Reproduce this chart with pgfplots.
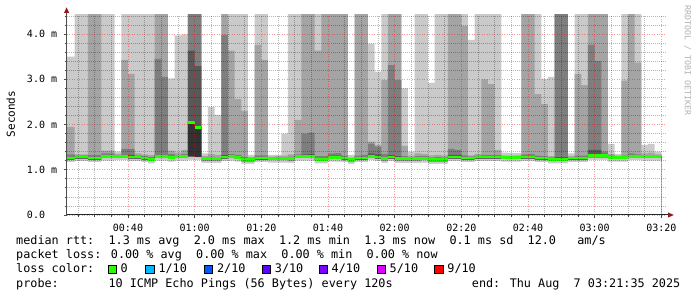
\documentclass[border=0pt]{standalone}
\usepackage{fontspec}
\usepackage{pgfplots}
\usepackage{pgfplotstable}
\pgfplotsset{compat=1.18}
\newfontfamily\dvm{DejaVu Sans Mono}
\definecolor{sA}{HTML}{CACACA}
\definecolor{sB}{HTML}{A4A4A4}
\definecolor{sC}{HTML}{7E7E7E}
\definecolor{sD}{HTML}{585858}
\definecolor{sE}{HTML}{323232}
\definecolor{lcA}{HTML}{26FF00}
\definecolor{lcB}{HTML}{00B8FF}
\definecolor{lcC}{HTML}{0059FF}
\definecolor{lcD}{HTML}{5E00FF}
\definecolor{lcE}{HTML}{7E00FF}
\definecolor{lcF}{HTML}{DD00FF}
\definecolor{lcG}{HTML}{FF0000}
\definecolor{arr}{RGB}{150,25,25}
\pgfplotstableread{
t med lo lo2 h5 h4 h3 h2 h1
20 1.26 1.17 1.225 1.26 1.28 1.34 1.95 3.50
24 1.28 1.19 1.245 1.28 1.30 1.31 1.34 5
26 1.28 1.19 1.245 1.28 1.30 1.31 1.34 5
28 1.26 1.17 1.225 1.26 1.28 1.33 5 5
30 1.26 1.17 1.225 1.26 1.28 1.33 5 5
32 1.29 1.20 1.255 1.29 1.31 1.36 1.42 5
34 1.29 1.20 1.255 1.29 1.31 1.36 1.42 5
36 1.30 1.21 1.265 1.30 1.31 1.32 1.35 1.40
38 1.30 1.21 1.265 1.30 1.33 1.46 3.43 5
40 1.28 1.19 1.245 1.28 1.33 1.46 3.12 5
42 1.28 1.19 1.245 1.28 1.30 1.31 1.36 5
44 1.26 1.17 1.225 1.26 1.28 1.30 1.34 5
46 1.23 1.14 1.195 1.23 1.25 1.28 1.33 5
48 1.29 1.20 1.255 1.29 1.33 3.45 5 5
50 1.29 1.20 1.255 1.29 1.33 3.05 5 5
52 1.27 1.18 1.235 1.27 1.29 1.35 1.42 3.02
54 1.29 1.20 1.255 1.29 1.31 1.33 1.38 3.97
56 1.29 1.20 1.255 1.29 1.31 1.35 1.44 3.99
58 2.05 1.22 1.29 2.06 3.63 5 5 5
60 1.93 1.22 1.28 1.95 3.29 5 5 5
62 1.24 1.15 1.205 1.24 1.26 1.27 1.30 1.36
64 1.24 1.15 1.205 1.24 1.26 1.29 1.35 2.39
66 1.24 1.15 1.205 1.24 1.26 1.28 1.33 2.21
68 1.28 1.19 1.245 1.28 1.33 3.98 5 5
70 1.29 1.20 1.255 1.29 1.31 1.35 3.63 5
72 1.27 1.18 1.235 1.27 1.29 1.33 2.56 5
74 1.22 1.13 1.185 1.22 1.24 1.28 2.30 5
76 1.22 1.13 1.185 1.22 1.24 1.25 1.28 1.33
78 1.26 1.17 1.225 1.26 1.28 1.32 3.76 5
80 1.26 1.17 1.225 1.26 1.28 1.32 3.43 5
82 1.25 1.16 1.215 1.25 1.26 1.27 1.29 1.33
84 1.25 1.16 1.215 1.25 1.26 1.27 1.30 1.33
86 1.25 1.16 1.215 1.25 1.27 1.28 1.31 1.80
88 1.24 1.15 1.205 1.24 1.26 1.29 1.34 5
90 1.29 1.20 1.255 1.29 1.31 1.34 2.10 5
92 1.29 1.20 1.255 1.29 1.34 1.80 5 5
94 1.29 1.20 1.255 1.29 1.35 1.82 5 5
96 1.23 1.14 1.195 1.23 1.25 1.30 3.63 5
98 1.23 1.14 1.195 1.23 1.25 1.30 5 5
100 1.27 1.18 1.235 1.27 1.31 1.36 5 5
102 1.27 1.18 1.235 1.27 1.31 1.37 5 5
104 1.26 1.17 1.225 1.26 1.28 1.31 5 5
106 1.22 1.13 1.185 1.22 1.23 1.24 1.27 1.33
108 1.26 1.17 1.225 1.26 1.28 1.31 5 5
110 1.26 1.17 1.225 1.26 1.28 1.33 5 5
112 1.30 1.21 1.265 1.30 1.36 1.58 1.62 3.79
114 1.28 1.19 1.245 1.28 1.34 1.51 1.55 3.17
116 1.24 1.15 1.205 1.24 1.26 1.35 2.98 5
118 1.28 1.19 1.245 1.28 1.33 3.31 5 5
120 1.24 1.15 1.205 1.24 1.30 2.98 5 5
122 1.24 1.15 1.205 1.24 1.26 1.30 1.53 2.80
124 1.24 1.15 1.205 1.24 1.26 1.28 1.31 1.40
126 1.24 1.15 1.205 1.24 1.26 1.30 1.36 5
128 1.25 1.16 1.215 1.25 1.27 1.30 1.35 5
130 1.22 1.13 1.185 1.22 1.24 1.27 1.32 2.92
132 1.22 1.13 1.185 1.22 1.24 1.28 1.33 5
134 1.22 1.13 1.185 1.22 1.24 1.27 1.32 5
136 1.28 1.19 1.245 1.28 1.33 1.46 5 5
138 1.28 1.19 1.245 1.28 1.33 1.44 5 5
140 1.26 1.17 1.225 1.26 1.28 1.32 4.18 5
142 1.26 1.17 1.225 1.26 1.27 1.29 1.32 3.87
144 1.28 1.19 1.245 1.28 1.30 1.31 1.35 5
146 1.28 1.19 1.245 1.28 1.30 1.33 3.00 5
148 1.28 1.19 1.245 1.28 1.30 1.33 2.89 5
150 1.28 1.19 1.245 1.28 1.30 1.33 1.44 5
152 1.27 1.18 1.235 1.27 1.28 1.29 1.31 1.38
154 1.27 1.18 1.235 1.27 1.28 1.29 1.31 1.37
156 1.27 1.18 1.235 1.27 1.28 1.29 1.32 1.37
158 1.28 1.19 1.245 1.28 1.30 1.34 5 5
160 1.28 1.19 1.245 1.28 1.30 1.35 5 5
162 1.26 1.17 1.225 1.26 1.28 1.31 2.67 5
164 1.26 1.17 1.225 1.26 1.28 1.30 2.45 3.01
166 1.23 1.14 1.195 1.23 1.25 1.27 1.30 3.05
168 1.23 1.14 1.195 1.23 1.28 5 5 5
170 1.23 1.14 1.195 1.23 1.28 5 5 5
172 1.26 1.17 1.225 1.26 1.27 1.28 1.30 1.36
174 1.26 1.17 1.225 1.26 1.28 1.31 3.12 5
176 1.26 1.17 1.225 1.26 1.28 1.31 2.87 5
178 1.31 1.22 1.275 1.31 1.44 3.76 5 5
180 1.31 1.22 1.275 1.31 1.44 3.40 5 5
182 1.31 1.22 1.275 1.31 1.35 1.40 5 5
184 1.27 1.18 1.235 1.27 1.29 1.31 1.35 1.57
186 1.27 1.18 1.235 1.27 1.28 1.29 1.31 1.35
188 1.27 1.18 1.235 1.27 1.29 1.31 2.97 5
190 1.30 1.21 1.265 1.30 1.32 1.36 5 5
192 1.30 1.21 1.265 1.30 1.32 1.34 3.37 5
194 1.29 1.20 1.255 1.29 1.31 1.32 1.36 1.55
196 1.29 1.20 1.255 1.29 1.31 1.32 1.38 1.57
198 1.29 1.20 1.255 1.29 1.30 1.31 1.34 1.40
200 1.29 1.20 1.255 1.29 1.30 1.31 1.34 1.40
}\smoke
\newcommand\lgf{\dvm\fontsize{11.8}{14}\selectfont}
\newcommand\tkf{\dvm\fontsize{10}{12}\selectfont}
\begin{document}
\begin{tikzpicture}[x=1pt,y=1pt]
\useasboundingbox (0,0) rectangle (697,297);
\fill[white] (0,0) rectangle (697,297);
\begin{axis}[
  at={(66.6pt,82pt)}, anchor=south west, scale only axis,
  width=600pt, height=200pt,
  xmin=21.583, xmax=201.583, ymin=0, ymax=4.42,
  axis on top,
  axis line style={draw=none},
  tick pos=left,
  tick align=outside,
  major tick length=3pt, minor tick length=2pt,
  tick style={black!70, line width=0.7pt},
  xtick={40,60,80,100,120,140,160,180,200},
  xticklabels={00:40,01:00,01:20,01:40,02:00,02:20,02:40,03:00,03:20},
  minor xtick={25,30,35,45,50,55,65,70,75,85,90,95,105,110,115,125,130,135,145,150,155,165,170,175,185,190,195},
  ytick={0,1,2,3,4},
  yticklabels={{0.0\hphantom{ m}},{1.0 m},{2.0 m},{3.0 m},{4.0 m}},
  minor ytick={0.2,0.4,0.6,0.8,1.2,1.4,1.6,1.8,2.2,2.4,2.6,2.8,3.2,3.4,3.6,3.8,4.2,4.4},
  grid=both,
  major grid style={draw=red, opacity=0.4, line width=0.7pt, dash pattern=on 1pt off 1.5pt},
  minor grid style={draw=black, opacity=0.28, line width=0.7pt, dash pattern=on 1pt off 1pt},
  xticklabel style={font=\tkf, anchor=base, inner sep=0pt, yshift=-13.3pt},
  yticklabel style={font=\tkf, anchor=east, inner sep=0pt, xshift=-6.3pt},
]
\addplot[const plot, fill=sA, draw=none] table[x=t,y=h1]{\smoke} \closedcycle;
\addplot[const plot, fill=sB, draw=none] table[x=t,y=h2]{\smoke} \closedcycle;
\addplot[const plot, fill=sC, draw=none] table[x=t,y=h3]{\smoke} \closedcycle;
\addplot[const plot, fill=sD, draw=none] table[x=t,y=h4]{\smoke} \closedcycle;
\addplot[const plot, fill=sE, draw=none] table[x=t,y=h5]{\smoke} \closedcycle;
\addplot[const plot, fill=sA, draw=none] table[x=t,y=lo2]{\smoke} \closedcycle;
\addplot[const plot, fill=white, draw=none] table[x=t,y=lo]{\smoke} \closedcycle;
\addplot[jump mark left, draw=lcA, line width=2.8pt] table[x=t,y=med]{\smoke};
\end{axis}
% axis lines and arrows
\draw[black!85, line width=1pt] (66.6,82) -- (668.5,82);
\draw[black!70, line width=1pt] (66.6,82) -- (66.6,284.5);
\fill[arr] (668,79.4) -- (673.8,82) -- (668,84.6) -- cycle;
\fill[arr] (64,284) -- (66.6,289.6) -- (69.2,284) -- cycle;
% y label and watermark
\node[rotate=90, font=\dvm\fontsize{11}{13}\selectfont] at (10.8,183) {Seconds};
\node[rotate=-90, anchor=west, inner sep=0pt, text=black!30, font=\dvm\fontsize{8.3}{10}\selectfont] at (687.5,292) {RRDTOOL / TOBI OETIKER};
% legend
\node[anchor=base west, inner sep=0pt, font=\lgf] at (16,52.7) {median rtt:\ \ 1.3 ms avg\ \ 2.0 ms max\ \ 1.2 ms min\ \ 1.3 ms now\ \ 0.1 ms sd\ \ 12.0\ \ \ am/s};
\node[anchor=base west, inner sep=0pt, font=\lgf] at (16,38.4) {packet loss: 0.00 \% avg\ \ 0.00 \% max\ \ 0.00 \% min\ \ 0.00 \% now};
\node[anchor=base west, inner sep=0pt, font=\lgf] at (16,24.1) {loss color:};
\foreach \bx/\col/\txt in {108/lcA/0, 145.8/lcB/1\slash 10, 204.4/lcC/2\slash 10, 262.2/lcD/3\slash 10, 319/lcE/4\slash 10, 377/lcF/5\slash 10, 434.7/lcG/9\slash 10}{
  \filldraw[fill=\col, draw=black, line width=0.8pt] (\bx,24) rectangle (\bx+8.2,32);
  \node[anchor=base west, inner sep=0pt, font=\lgf] at (\bx+12.5,24.1) {\txt};
}
\node[anchor=base west, inner sep=0pt, font=\lgf] at (16,9.8) {probe:\ \ \ \ \ \ \ 10 ICMP Echo Pings (56 Bytes) every 120s};
\node[anchor=base east, inner sep=0pt, font=\lgf] at (680.5,9.8) {end: Thu Aug\ \ 7 03:21:35 2025};
\end{tikzpicture}
\end{document}
